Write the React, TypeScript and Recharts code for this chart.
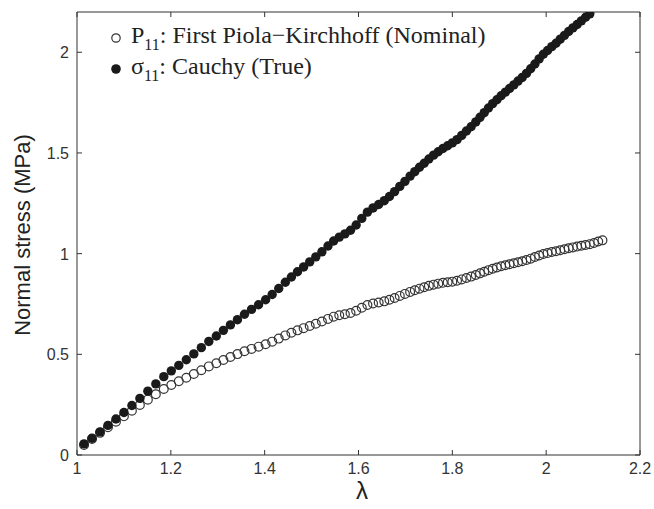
import { ScatterChart, Scatter, XAxis, YAxis } from 'recharts';

// stretch ratio (lambda) at each sample
const lam = [
  1.015, 1.032, 1.049, 1.066, 1.083, 1.1, 1.117, 1.134, 1.151, 1.168, 1.185, 1.201, 1.217,
  1.233, 1.249, 1.265, 1.281, 1.297, 1.312, 1.327, 1.342, 1.357, 1.372, 1.387, 1.402,
  1.416, 1.43, 1.444, 1.457, 1.47, 1.483, 1.496, 1.509, 1.522, 1.535, 1.547, 1.559, 1.571,
  1.583, 1.595, 1.607, 1.619, 1.631, 1.643, 1.655, 1.666, 1.677, 1.688, 1.699,
  1.71, 1.72, 1.73, 1.74, 1.75, 1.76, 1.77, 1.78, 1.79, 1.8, 1.81, 1.82, 1.83, 1.84, 1.85,
  1.859, 1.868, 1.877, 1.886, 1.895, 1.904, 1.913, 1.922, 1.931, 1.94, 1.949, 1.958, 1.967,
  1.976, 1.985, 1.994, 2.003, 2.012, 2.021, 2.03, 2.039, 2.048, 2.057, 2.066, 2.075, 2.084,
  2.093, 2.102, 2.111, 2.12,
];

// P11, first Piola-Kirchhoff (nominal) stress, MPa
const nominal = [
  0.05, 0.08, 0.11, 0.138, 0.165, 0.192, 0.22, 0.248, 0.275, 0.302, 0.328, 0.348, 0.366,
  0.384, 0.402, 0.421, 0.44, 0.456, 0.472, 0.487, 0.501, 0.515, 0.527, 0.538, 0.55,
  0.563, 0.578, 0.594, 0.607, 0.619, 0.63, 0.641, 0.652, 0.663, 0.676, 0.687, 0.694, 0.699,
  0.705, 0.716, 0.731, 0.745, 0.752, 0.757, 0.763, 0.771, 0.78, 0.79, 0.8,
  0.81, 0.818, 0.826, 0.833, 0.84, 0.846, 0.851, 0.855, 0.858, 0.861, 0.865, 0.872, 0.879,
  0.886, 0.894, 0.902, 0.91, 0.918, 0.925, 0.931, 0.937, 0.942, 0.947, 0.952, 0.957, 0.962,
  0.968, 0.975, 0.983, 0.991, 0.998, 1.003, 1.008, 1.012, 1.017, 1.022, 1.027, 1.031, 1.035,
  1.039, 1.043, 1.047, 1.053, 1.06, 1.066,
];

// sigma11, Cauchy (true) stress, MPa -- runs off the top after lambda ~2.09
const cauchy = [
  0.055, 0.083, 0.115, 0.147, 0.179, 0.211, 0.246, 0.281, 0.317, 0.353, 0.389, 0.418, 0.445,
  0.473, 0.502, 0.533, 0.564, 0.591, 0.619, 0.646, 0.672, 0.699, 0.723, 0.746, 0.771,
  0.797, 0.827, 0.858, 0.884, 0.91, 0.934, 0.959, 0.984, 1.009, 1.038, 1.063, 1.082, 1.098,
  1.116, 1.142, 1.175, 1.206, 1.227, 1.244, 1.263, 1.284, 1.308, 1.334, 1.359,
  1.385, 1.407, 1.429, 1.449, 1.47, 1.489, 1.506, 1.522, 1.536, 1.55, 1.566, 1.587, 1.609,
  1.63, 1.654, 1.677, 1.7, 1.723, 1.745, 1.764, 1.784, 1.802, 1.82, 1.838, 1.857, 1.875,
  1.895, 1.918, 1.942, 1.967, 1.99, 2.009, 2.028, 2.045, 2.065, 2.084, 2.103, 2.121, 2.138,
  2.156, 2.174, 2.191,
];

const xTicks = [1, 1.2, 1.4, 1.6, 1.8, 2, 2.2];
const yTicks = [0, 0.5, 1, 1.5, 2];

const nominalData = lam.map((x, i) => ({ x, y: nominal[i] }));
const cauchyData = cauchy.map((y, i) => ({ x: lam[i], y }));

const AXIS = '#333';
const LABEL = '#333';
const SANS = '"Liberation Sans", Arial, sans-serif';
const SERIF = '"Liberation Serif", "Times New Roman", serif';

const BottomTick = (props: any) => {
  const { x, y, payload } = props;
  return (
    <g>
      <line x1={x} y1={y} x2={x} y2={y - 5} stroke={AXIS} />
      <text x={x} y={y + 19} textAnchor="middle" fontSize={16} fontFamily={SANS} fill={LABEL}>
        {payload.value}
      </text>
    </g>
  );
};

const TopTick = (props: any) => {
  const { x, y } = props;
  return <line x1={x} y1={y} x2={x} y2={y + 5} stroke={AXIS} />;
};

const LeftTick = (props: any) => {
  const { x, y, payload } = props;
  return (
    <g>
      <line x1={x} y1={y} x2={x + 5} y2={y} stroke={AXIS} />
      <text x={x - 8} y={y + 6} textAnchor="end" fontSize={16} fontFamily={SANS} fill={LABEL}>
        {payload.value}
      </text>
    </g>
  );
};

const RightTick = (props: any) => {
  const { x, y } = props;
  return <line x1={x} y1={y} x2={x - 5} y2={y} stroke={AXIS} />;
};

const OpenDot = (props: any) => (
  <circle cx={props.cx} cy={props.cy} r={4.4} fill="none" stroke="#333" strokeWidth={1.2} />
);

const FilledDot = (props: any) => <circle cx={props.cx} cy={props.cy} r={4.7} fill="#1a1a1a" />;

export default function App() {
  return (
    <div style={{ position: 'relative', width: 654, height: 509, background: '#fff' }}>
      <style>{'body{margin:0}'}</style>
      <ScatterChart width={654} height={509} margin={{ top: 0, right: 0, bottom: 0, left: 0 }}>
        <XAxis
          xAxisId="b"
          type="number"
          dataKey="x"
          domain={[1, 2.2]}
          ticks={xTicks}
          allowDataOverflow
          height={54}
          tickLine={false}
          tickSize={0}
          tickMargin={0}
          tick={<BottomTick />}
          axisLine={{ stroke: AXIS }}
        />
        <XAxis
          xAxisId="t"
          orientation="top"
          type="number"
          dataKey="x"
          domain={[1, 2.2]}
          ticks={xTicks}
          allowDataOverflow
          height={12}
          tickLine={false}
          tickSize={0}
          tickMargin={0}
          tick={<TopTick />}
          axisLine={{ stroke: AXIS }}
        />
        <YAxis
          yAxisId="l"
          type="number"
          dataKey="y"
          domain={[0, 2.2]}
          ticks={yTicks}
          allowDataOverflow
          width={77}
          tickLine={false}
          tickSize={0}
          tickMargin={0}
          tick={<LeftTick />}
          axisLine={{ stroke: AXIS }}
        />
        <YAxis
          yAxisId="r"
          orientation="right"
          type="number"
          dataKey="y"
          domain={[0, 2.2]}
          ticks={yTicks}
          allowDataOverflow
          width={14}
          tickLine={false}
          tickSize={0}
          tickMargin={0}
          tick={<RightTick />}
          axisLine={{ stroke: AXIS }}
        />
        <Scatter
          name="P11"
          data={nominalData}
          xAxisId="b"
          yAxisId="l"
          shape={<OpenDot />}
          isAnimationActive={false}
        />
        <Scatter
          name="sigma11"
          data={cauchyData}
          xAxisId="b"
          yAxisId="l"
          shape={<FilledDot />}
          isAnimationActive={false}
        />
      </ScatterChart>
      <svg
        width={654}
        height={509}
        style={{ position: 'absolute', left: 0, top: 0, pointerEvents: 'none' }}
      >
        <circle cx={116} cy={38} r={4.2} fill="none" stroke="#333" strokeWidth={1.2} />
        <text x={131} y={43} fontSize={24} fontFamily={SERIF} fill="#222">
          P
          <tspan fontSize={16} dy={7}>11</tspan>
          <tspan dy={-7}>: First Piola−Kirchhoff (Nominal)</tspan>
        </text>
        <circle cx={116} cy={69} r={4.8} fill="#1a1a1a" />
        <text x={131} y={74} fontSize={24} fontFamily={SERIF} fill="#222">
          σ
          <tspan fontSize={16} dy={7}>11</tspan>
          <tspan dy={-7}>: Cauchy (True)</tspan>
        </text>
        <text
          x={22}
          y={235}
          transform="rotate(-90 22 235)"
          textAnchor="middle"
          dominantBaseline="central"
          fontSize={22}
          fontFamily={SANS}
          fill="#222"
        >
          Normal stress (MPa)
        </text>
        <text x={362} y={499} textAnchor="middle" fontSize={24} fontFamily={SANS} fill="#222">
          λ
        </text>
      </svg>
    </div>
  );
}
